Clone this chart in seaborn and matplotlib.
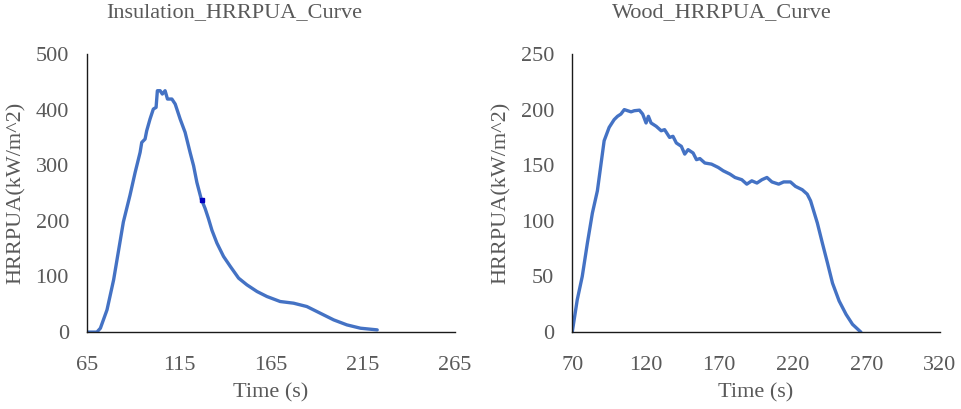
import numpy as np
import pandas as pd
import matplotlib
matplotlib.use('Agg')
import matplotlib.pyplot as plt
import seaborn as sns

# valores
ins_time = [65, 70.4, 72.3, 75.9, 79.5, 84.8, 88.4, 91.2, 93.9, 94.8, 96.6, 97.5, 99.3,
            101.1, 102.6, 103.3, 104.8, 106, 107.5, 108.8, 111.2, 113, 115.7, 118.4,
            121.1, 123, 124.8, 127.1, 129.3, 131.1, 133, 135.7, 139.3, 143, 147.5, 152,
            157.5, 162.9, 170.1, 177.4, 184.6, 191.9, 199.2, 206.4, 213.8, 222.9]
ins_hrr = [0, 0, 7, 40, 94, 198, 246, 287, 323, 341, 347, 362, 383,
           401, 404, 434, 434, 428, 434, 419, 419, 410, 383, 359,
           323, 299, 269, 240, 222, 204, 183, 160, 136, 118, 97, 85,
           73, 64, 55, 52, 46, 34, 22, 13, 7, 4]

wood_time = [70, 73.4, 76.8, 80.3, 83.7, 87.1, 91.7, 95.1, 98.5, 100.8, 103.1, 105.4,
             107.7, 110, 112.2, 115.7, 117.9, 120.2, 121.8, 123.6, 127.1, 130.5, 132.8,
             136.2, 138.5, 140.8, 144.2, 146.5, 148.8, 152.2, 154.5, 156.8, 160.2, 164.7,
             169.3, 172.7, 177.3, 180.7, 185.3, 188.7, 192.1, 195.6, 199, 202.4, 205.8,
             210.4, 213.8, 218.4, 221.8, 226.4, 229.8, 232.1, 236.7, 240.1, 243.6, 247,
             251.5, 256.2, 260.6, 266.3]
wood_hrr = [0, 29, 50, 80, 107, 127, 172, 184, 191, 194, 196, 200,
            199, 198, 199, 199.5, 196, 188, 194, 188, 185, 181, 182,
            175, 176, 170, 167, 160, 164, 161, 155, 156, 152, 151,
            148, 145, 142, 139, 137, 133, 136, 134, 137, 139, 135,
            133, 135, 135, 131, 128, 124, 118, 98, 80, 62, 44,
            28, 16, 7, 0]

ins_x_ticks = [65, 115, 165, 215, 265]
ins_y_ticks = [0, 100, 200, 300, 400, 500]
wood_x_ticks = [70, 120, 170, 220, 270, 320]
wood_y_ticks = [0, 50, 100, 150, 200, 250]

df_ins = pd.DataFrame({'Time': ins_time, 'HRRPUA': ins_hrr})
df_wood = pd.DataFrame({'Time': wood_time, 'HRRPUA': wood_hrr})

sns.set_theme(style='white')
plt.rcParams['font.family'] = ['Liberation Serif', 'DejaVu Serif']

cor_linha = '#4472C4'
cor_texto = '#595959'

fig, axes = plt.subplots(1, 2, figsize=(9.61, 4.09), dpi=100)
plt.subplots_adjust(left=0.0905, right=0.978, bottom=0.188, top=0.868, wspace=0.32)

configs = [
    (axes[0], df_ins, ins_x_ticks, ins_y_ticks, 'Insulation_HRRPUA_Curve', 234),
    (axes[1], df_wood, wood_x_ticks, wood_y_ticks, 'Wood_HRRPUA_Curve', 722),
]

for ax, df, xt, yt, titulo, tx in configs:
    sns.lineplot(data=df, x='Time', y='HRRPUA', ax=ax, color=cor_linha, linewidth=2.4)
    ax.set_xlim(xt[0], xt[-1])
    ax.set_ylim(yt[0], yt[-1])
    ax.set_xticks(xt)
    ax.set_yticks(yt)
    ax.tick_params(length=0, labelsize=16, labelcolor=cor_texto)
    ax.tick_params(axis='x', pad=17)
    ax.tick_params(axis='y', pad=13)
    ax.set_xlabel('Time (s)', fontsize=16, color=cor_texto, labelpad=6)
    ax.set_ylabel('HRRPUA(kW/m^2)', fontsize=16, color=cor_texto)
    for lado in ['top', 'right']:
        ax.spines[lado].set_visible(False)
    for lado in ['left', 'bottom']:
        ax.spines[lado].set_color('#1a1a1a')
        ax.spines[lado].set_linewidth(1.0)
    fig.text(tx / 961, 1 - 13 / 409, titulo, ha='center', va='center',
             fontsize=16, color=cor_texto)

# ponto selecionado (marca azul escura) na curva da isolação
axes[0].plot([127.5], [237], marker='s', markersize=3, color='#0000C0', linestyle='none')

axes[0].yaxis.set_label_coords(-0.165, 0.5)
axes[1].yaxis.set_label_coords(-0.167, 0.5)

plt.savefig('out.png', dpi=100)
